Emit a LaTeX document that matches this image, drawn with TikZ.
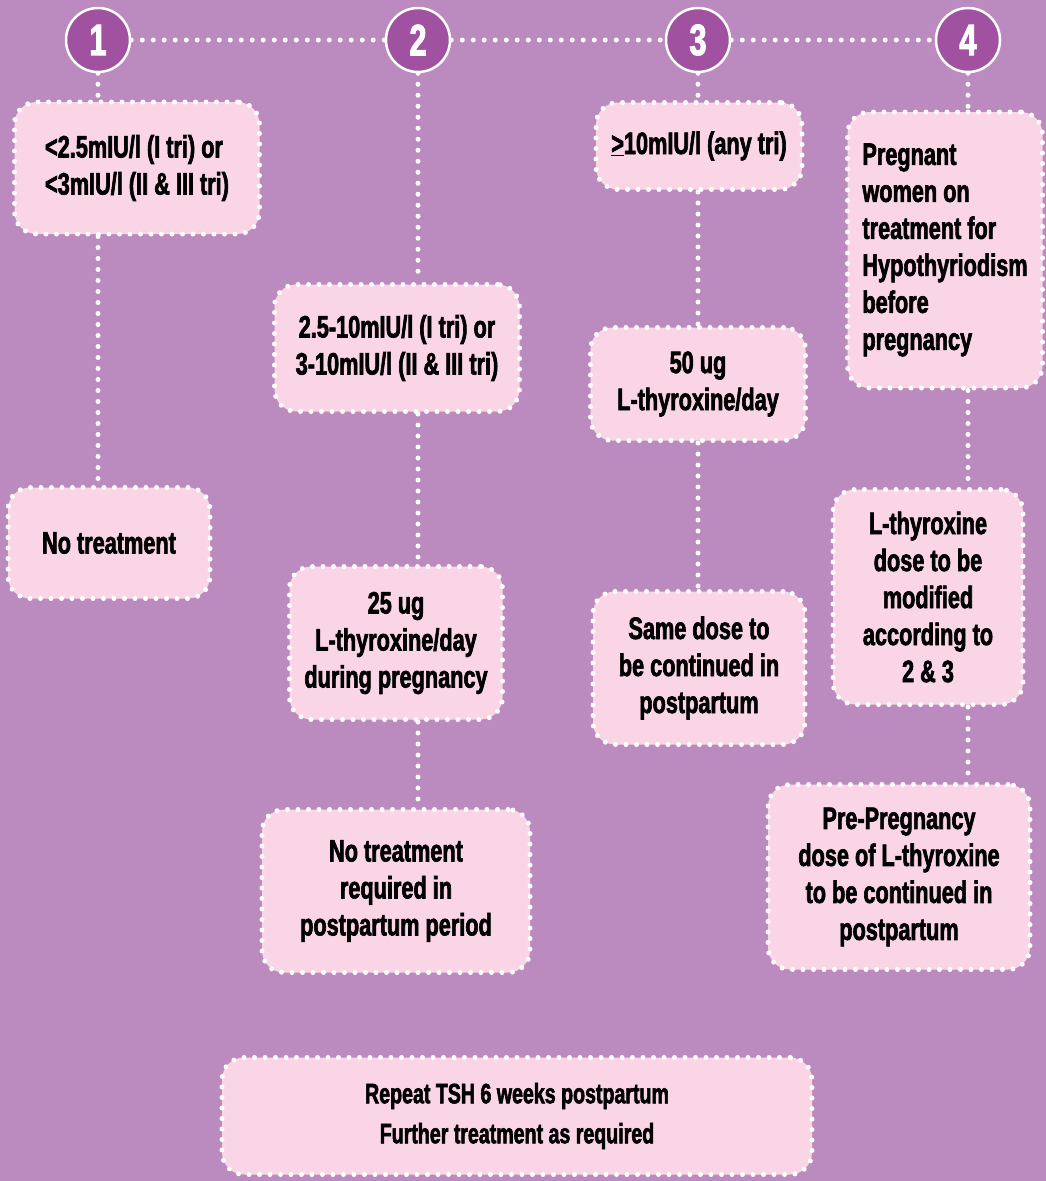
\documentclass[tikz,border=0pt]{standalone}
\usepackage{fontspec}
\newfontfamily\condfont[FakeStretch=0.7, FakeBold=2]{Liberation Sans}
\definecolor{bgpurple}{HTML}{BB8ABE}
\definecolor{numpurple}{HTML}{A052A0}
\definecolor{boxpink}{HTML}{F9D5E6}
\usetikzlibrary{positioning, calc}

\begin{document}
\begin{tikzpicture}[
  x=1pt, y=-1pt,
  stepbox/.style={draw=white, fill=boxpink, rounded corners=22pt, line width=5pt, dash pattern=on 0pt off 10.5pt, line cap=round, align=center, inner sep=4pt, font=\condfont\bfseries\fontsize{31}{37}\selectfont},
  numcirc/.style={circle, draw=white, line width=2.5pt, fill=numpurple, minimum size=64pt, inner sep=0pt, text=white, font=\condfont\bfseries\fontsize{44}{44}\selectfont},
  dotline/.style={white, line width=5pt, dash pattern=on 0pt off 11pt, line cap=round}
]
  \fill[bgpurple] (0,0) rectangle (1046,1181);
  \useasboundingbox (0,0) rectangle (1046,1181);

  \node[numcirc] (n1) at (98,40) {1};
  \node[numcirc] (n2) at (418,40) {2};
  \node[numcirc] (n3) at (698,40) {3};
  \node[numcirc] (n4) at (968,40) {4};

  \node[stepbox, align=left, minimum width=245pt, minimum height=132pt] (b1a) at (137,168) {<2.5mIU/l (I tri) or\\<3mIU/l (II \& III tri)};
  \node[stepbox, minimum width=202pt, minimum height=111pt] (b1b) at (109,543) {No treatment};

  \node[stepbox, minimum width=245pt, minimum height=127pt] (b2a) at (397,348) {2.5-10mIU/l (I tri) or\\3-10mIU/l (II \& III tri)};
  \node[stepbox, minimum width=213pt, minimum height=153pt] (b2b) at (396,643) {25 ug\\L-thyroxine/day\\during pregnancy};
  \node[stepbox, minimum width=268pt, minimum height=163pt] (b2c) at (396,891) {No treatment\\required in\\postpartum period};

  \node[stepbox, minimum width=206pt, minimum height=87pt] (b3a) at (699,146) {\underline{>}10mIU/l (any tri)};
  \node[stepbox, minimum width=215pt, minimum height=113pt] (b3b) at (698,384) {50 ug\\L-thyroxine/day};
  \node[stepbox, minimum width=212pt, minimum height=153pt] (b3c) at (699,668) {Same dose to\\be continued in\\postpartum};

  \node[stepbox, align=left, minimum width=195pt, minimum height=276pt] (b4a) at (945,250) {Pregnant\\women on\\treatment for\\Hypothyriodism\\before\\pregnancy};
  \node[stepbox, minimum width=190pt, minimum height=215pt] (b4b) at (928,597) {L-thyroxine\\dose to be\\modified\\according to\\2 \& 3};
  \node[stepbox, minimum width=262pt, minimum height=185pt] (b4c) at (899,877) {Pre-Pregnancy\\dose of L-thyroxine\\to be continued in\\postpartum};

  \node[stepbox, minimum width=590pt, minimum height=117pt, font=\condfont\bfseries\fontsize{28}{40}\selectfont] (b5) at (517,1116) {Repeat TSH 6 weeks postpartum\\Further treatment as required};

  \draw[dotline] (n1) -- (n2);
  \draw[dotline] (n2) -- (n3);
  \draw[dotline] (n3) -- (n4);

  \draw[dotline] (n1) -- (n1 |- b1a.north);
  \draw[dotline] (b1a.south -| n1) -- (b1b.north -| n1);

  \draw[dotline] (n2) -- (n2 |- b2a.north);
  \draw[dotline] (b2a.south -| n2) -- (b2b.north -| n2);
  \draw[dotline] (b2b.south -| n2) -- (b2c.north -| n2);

  \draw[dotline] (n3) -- (n3 |- b3a.north);
  \draw[dotline] (b3a.south -| n3) -- (b3b.north -| n3);
  \draw[dotline] (b3b.south -| n3) -- (b3c.north -| n3);

  \draw[dotline] (n4) -- (n4 |- b4a.north);
  \draw[dotline] (b4a.south -| n4) -- (b4b.north -| n4);
  \draw[dotline] (b4b.south -| n4) -- (b4c.north -| n4);
\end{tikzpicture}
\end{document}
